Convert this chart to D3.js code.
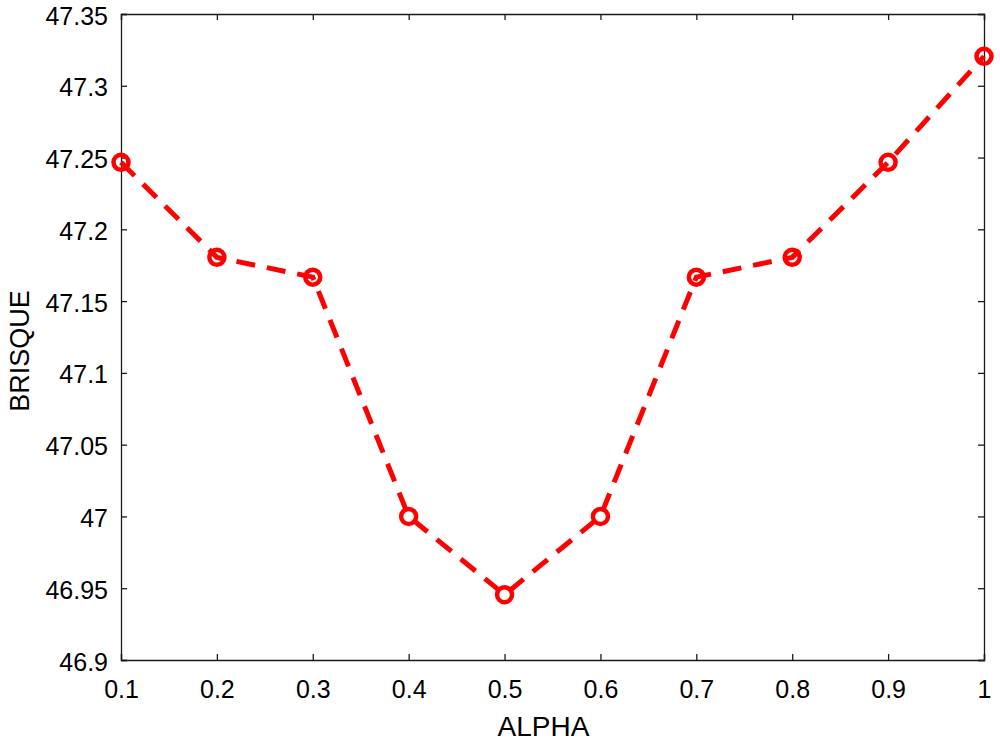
<!DOCTYPE html>
<html>
<head>
<meta charset="utf-8">
<script src="https://cdn.jsdelivr.net/npm/d3@7"></script>
<style>
  body { margin: 0; background: #fff; }
  text { font-family: "Liberation Sans", Arial, sans-serif; fill: #000; }
</style>
</head>
<body>
<div id="chart"></div>
<script>
var alpha = [0.1, 0.2, 0.3, 0.4, 0.5, 0.6, 0.7, 0.8, 0.9, 1.0];
var brisque = [47.2467, 47.1805, 47.1667, 47.0, 46.9455, 47.0, 47.1667, 47.1805, 47.2467, 47.3205];
var xTicks = [0.1, 0.2, 0.3, 0.4, 0.5, 0.6, 0.7, 0.8, 0.9, 1];
var yTicks = [46.9, 46.95, 47, 47.05, 47.1, 47.15, 47.2, 47.25, 47.3, 47.35];

var margin = { top: 14, right: 16, bottom: 81, left: 121 },
    width = 1000 - margin.left - margin.right,
    height = 741 - margin.top - margin.bottom;

var svg = d3.select("#chart")
    .append("svg")
    .attr("width", 1000)
    .attr("height", 741)
    .append("g")
    .attr("transform", "translate(" + margin.left + "," + margin.top + ")");

var x = d3.scaleLinear().domain([0.1, 1]).range([0, width]);
var y = d3.scaleLinear().domain([46.9, 47.35]).range([height, 0]);

var fmt = function (d) { return String(+d.toFixed(2)); };

// bottom / left axes, ticks pointing inward
var xAxis = svg.append("g")
    .attr("transform", "translate(0," + height + ")")
    .call(d3.axisBottom(x).tickValues(xTicks).tickSize(-6).tickPadding(20).tickFormat(fmt));
var yAxis = svg.append("g")
    .call(d3.axisLeft(y).tickValues(yTicks).tickSize(-6).tickPadding(13).tickFormat(fmt));

// top / right mirror axes
svg.append("g")
    .call(d3.axisTop(x).tickValues(xTicks).tickSize(-6).tickFormat(""));
svg.append("g")
    .attr("transform", "translate(" + width + ",0)")
    .call(d3.axisRight(y).tickValues(yTicks).tickSize(-6).tickFormat(""));

svg.selectAll(".domain").attr("stroke", "#1a1a1a").attr("stroke-width", 1.3);
svg.selectAll(".tick line").attr("stroke", "#1a1a1a").attr("stroke-width", 1.3);
svg.selectAll(".tick text").style("font-size", "25px").attr("fill", "#000");
yAxis.selectAll(".tick text").attr("dy", "0.4em");

// axis labels
svg.append("text")
    .attr("x", width / 2 - 9)
    .attr("y", height + 76)
    .attr("text-anchor", "middle")
    .style("font-size", "28px")
    .text("ALPHA");

svg.append("text")
    .attr("transform", "translate(-92," + (height / 2 + 14) + ") rotate(-90)")
    .attr("text-anchor", "middle")
    .style("font-size", "27px")
    .text("BRISQUE");

// dashed line
var line = d3.line()
    .x(function (d, i) { return x(alpha[i]); })
    .y(function (d) { return y(d); });

svg.append("path")
    .datum(brisque)
    .attr("d", line)
    .attr("fill", "none")
    .attr("stroke", "#ff0000")
    .attr("stroke-width", 5)
    .attr("stroke-dasharray", "19,12");

// circle markers
svg.append("g")
    .selectAll("circle")
    .data(brisque)
    .enter()
    .append("circle")
    .attr("cx", function (d, i) { return x(alpha[i]); })
    .attr("cy", function (d) { return y(d); })
    .attr("r", 7.5)
    .attr("fill", "none")
    .attr("stroke", "#ff0000")
    .attr("stroke-width", 4.5);
</script>
</body>
</html>
